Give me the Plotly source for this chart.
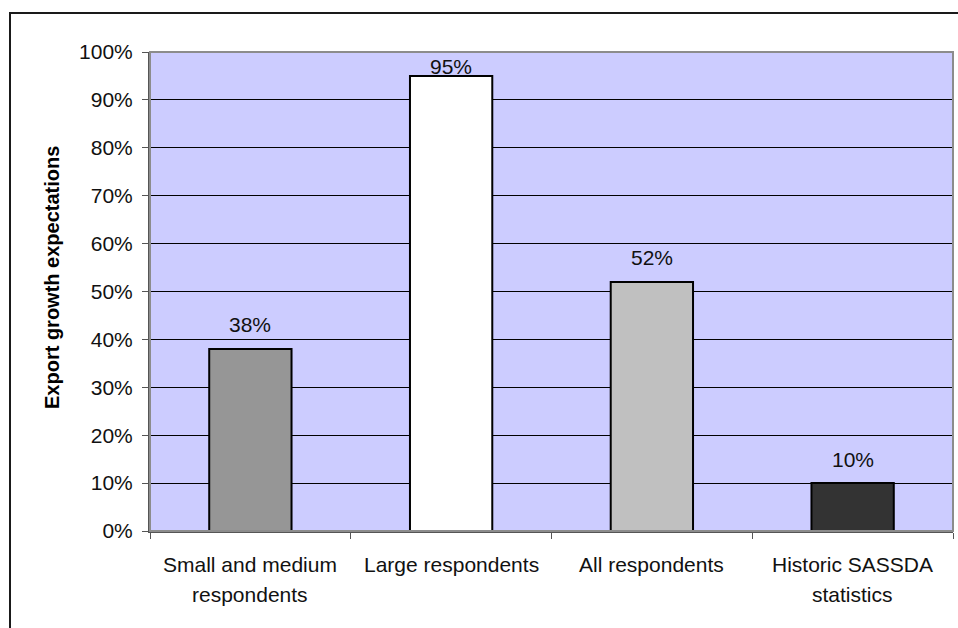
import plotly.graph_objects as go

# Survey data: expected export growth by respondent group
categories = ["Small and medium respondents", "Large respondents",
              "All respondents", "Historic SASSDA statistics"]
label_lines = [["Small and medium", "respondents"], ["Large respondents"],
               ["All respondents"], ["Historic SASSDA", "statistics"]]
values = [0.38, 0.95, 0.52, 0.10]
bar_colors = ["#969696", "#ffffff", "#c0c0c0", "#333333"]
y_ticks = [i / 10 for i in range(11)]
y_tick_labels = [f"{i * 10}%" for i in range(11)]

W, H = 958, 628
ML, MR, MT, MB = 150, 5, 52, 97
PW, PH = W - ML - MR, H - MT - MB
FONT = "Liberation Sans, Arial, sans-serif"
FS = 21

fig = go.Figure(go.Bar(
    x=categories, y=values,
    marker=dict(color=bar_colors, line=dict(color="#000000", width=2)),
    hoverinfo="skip",
))

annotations = []
# value labels above the bars, kept inside the plotting area
for cat, v in zip(categories, values):
    shift = min(24, (1 - v) * PH - 15)
    annotations.append(dict(
        x=cat, y=v, xref="x", yref="y", text=f"{round(v * 100)}%",
        showarrow=False, yanchor="middle", yshift=shift,
        font=dict(family=FONT, size=FS, color="#111111"),
    ))
# category labels below the axis (Excel-style wider line spacing)
for cat, lines in zip(categories, label_lines):
    for k, line in enumerate(lines):
        annotations.append(dict(
            x=cat, y=0, xref="x", yref="paper", text=line,
            showarrow=False, yanchor="middle", yshift=-33 - 30 * k,
            font=dict(family=FONT, size=FS, color="#111111"),
        ))
# axis title
annotations.append(dict(
    x=(52 - ML) / PW, y=(H - MB - 278) / PH, xref="paper", yref="paper",
    text="<b>Export growth expectations</b>", textangle=-90,
    showarrow=False, xanchor="center", yanchor="middle",
    font=dict(family=FONT, size=20, color="#000000"),
))

shapes = [
    # outer chart frame
    dict(type="rect", xref="paper", yref="paper",
         x0=(10 - ML) / PW, x1=(W + 20 - ML) / PW,
         y0=-(H + 20 - (H - MB)) / PH, y1=(H - MB - 13) / PH,
         line=dict(color="#1a1a1a", width=2), fillcolor="rgba(0,0,0,0)",
         layer="below"),
    # plot area border
    dict(type="rect", xref="paper", yref="paper", x0=0, x1=1, y0=0, y1=1,
         line=dict(color="#8c8c8c", width=2), fillcolor="rgba(0,0,0,0)",
         layer="above"),
]

fig.update_layout(
    width=W, height=H,
    margin=dict(l=ML, r=MR, t=MT, b=MB, pad=0),
    paper_bgcolor="#ffffff", plot_bgcolor="#ccccff",
    bargap=0.59, showlegend=False,
    font=dict(family=FONT, size=FS, color="#111111"),
    annotations=annotations, shapes=shapes,
)
fig.update_xaxes(
    type="category", showticklabels=False, tickson="boundaries",
    ticks="outside", ticklen=6, tickcolor="#555555", tickwidth=1,
    showline=True, linecolor="#555555", linewidth=2, showgrid=False,
    zeroline=False,
)
fig.update_yaxes(
    range=[0, 1], tickvals=y_ticks, ticktext=y_tick_labels,
    ticks="outside", ticklen=6, tickcolor="#555555", tickwidth=1,
    ticklabelstandoff=5,
    showline=True, linecolor="#555555", linewidth=2,
    showgrid=True, gridcolor="#000000", gridwidth=1, zeroline=False,
    tickfont=dict(family=FONT, size=FS, color="#111111"),
)

fig.write_html("out.html")
